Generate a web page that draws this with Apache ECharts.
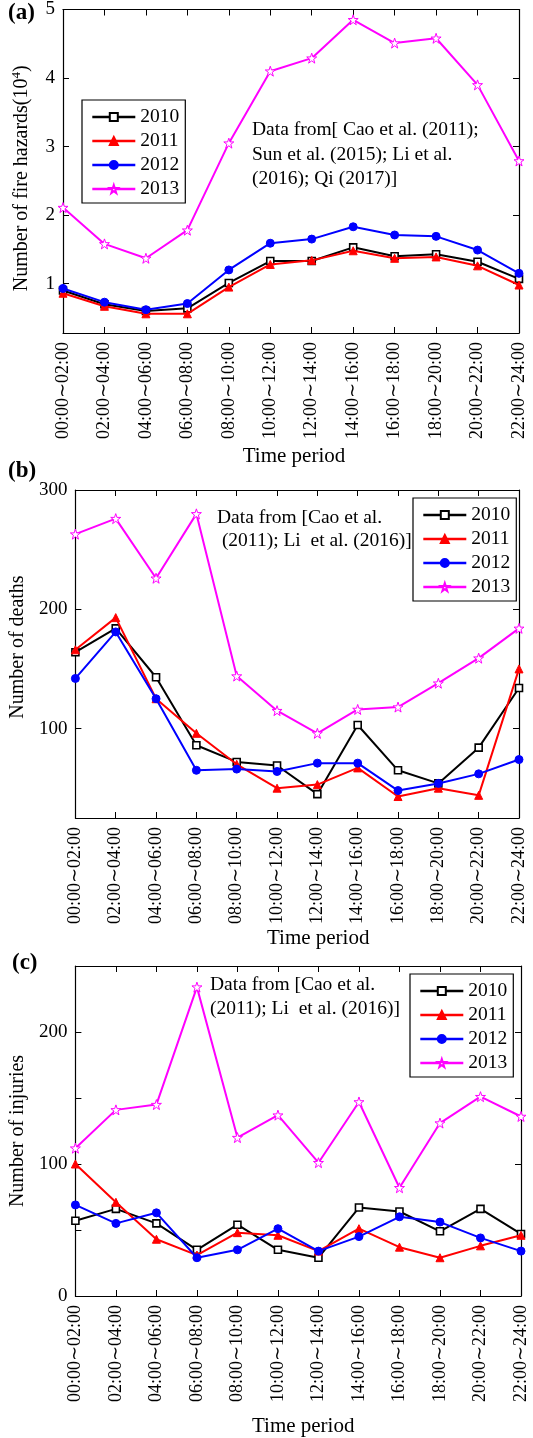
<!DOCTYPE html>
<html>
<head>
<meta charset="utf-8">
<script src="https://cdn.jsdelivr.net/npm/echarts@6/dist/echarts.min.js"></script>
<style>
html,body{margin:0;padding:0;background:#fff;}
#chart{width:533px;height:1438px;}
</style>
</head>
<body>
<div id="chart"></div>
<script>
// time slots on the x axis
var periods = ['00:00∼02:00','02:00∼04:00','04:00∼06:00','06:00∼08:00','08:00∼10:00','10:00∼12:00',
               '12:00∼14:00','14:00∼16:00','16:00∼18:00','18:00∼20:00','20:00∼22:00','22:00∼24:00'];
var years = ['2010','2011','2012','2013'];

// (a) number of fire hazards, 10^4
var fire2010 = [0.90, 0.70, 0.60, 0.64, 1.01, 1.33, 1.33, 1.53, 1.40, 1.43, 1.32, 1.07];
var fire2011 = [0.86, 0.67, 0.56, 0.56, 0.95, 1.28, 1.34, 1.48, 1.37, 1.39, 1.26, 0.98];
var fire2012 = [0.93, 0.73, 0.62, 0.71, 1.20, 1.59, 1.65, 1.83, 1.71, 1.69, 1.49, 1.15];
var fire2013 = [2.11, 1.58, 1.37, 1.78, 3.05, 4.10, 4.29, 4.85, 4.51, 4.58, 3.90, 2.79];

// (b) number of deaths
var death2010 = [164, 184, 143, 86, 72, 69, 45, 103, 65, 54, 84, 134];
var death2011 = [166, 193, 125, 96, 70, 50, 53, 67, 43, 50, 44, 150];
var death2012 = [142, 181, 125, 65, 66, 64, 71, 71, 48, 54, 62, 74];
var death2013 = [263, 276, 226, 280, 144, 115, 96, 116, 118, 138, 159, 184];

// (c) number of injuries
var injury2010 = [57, 66, 55, 35, 54, 35, 29, 67, 64, 49, 66, 47];
var injury2011 = [100, 71, 43, 31, 48, 46, 34, 51, 37, 29, 38, 46];
var injury2012 = [69, 55, 63, 29, 35, 51, 34, 45, 60, 56, 44, 34];
var injury2013 = [112, 141, 145, 234, 120, 137, 101, 147, 82, 131, 151, 136];

// y ticks
var fireTicks = [1, 2, 3, 4, 5];
var deathTicks = [100, 200, 300];
var injuryTicks = [0, 50, 100, 150, 200, 250];
var injuryLabels = [0, 100, 200];

var FONT = 'Liberation Serif';
var colors = ['#000000', '#ff0000', '#0000ff', '#ff00ff'];
var star = 'path://M50,2 L61.8,36 L97.6,36 L68.6,57.5 L79.4,92 L50,71 L20.6,92 L31.4,57.5 L2.4,36 L38.2,36 Z';
var symbols = ['rect', 'triangle', 'circle', star];
var symSizes = [7, 8, 8, 10];
var fills = ['#ffffff', '#ff0000', '#0000ff', '#ffffff'];

var grids = [
    {left: 63, top: 5, width: 456, height: 328},
    {left: 73, top: 490, width: 446, height: 328},
    {left: 72, top: 966, width: 449, height: 330}
];

var axisLine = {show: true, onZero: false, lineStyle: {color: '#000', width: 1.2}};

function xAxes(gi, nameGap, namePad) {
    return [{
        type: 'category', gridIndex: gi, data: periods, boundaryGap: false, position: 'bottom',
        axisLine: axisLine,
        axisTick: {show: true, inside: true, length: 6, interval: 0, lineStyle: {color: '#000'}},
        axisLabel: {rotate: 90, margin: 9, interval: 0, fontFamily: FONT, fontSize: 18, color: '#000'},
        name: 'Time period', nameLocation: 'middle', nameGap: nameGap,
        nameTextStyle: {fontFamily: FONT, fontSize: 21, color: '#000', padding: namePad}
    }, {
        type: 'category', gridIndex: gi, data: periods, boundaryGap: false, position: 'top',
        axisLine: axisLine,
        axisTick: {show: true, inside: true, length: 6, interval: 0, lineStyle: {color: '#000'}},
        axisLabel: {show: false}
    }];
}

function yAxes(gi, min, max, ticks, labels, name, nameGap, namePad, rich) {
    return [{
        type: 'value', gridIndex: gi, min: min, max: max, position: 'left',
        splitLine: {show: false},
        axisLine: axisLine,
        axisTick: {show: true, inside: true, length: 6, customValues: ticks, lineStyle: {color: '#000'}},
        axisLabel: {customValues: labels, margin: 8, fontFamily: FONT, fontSize: 19, color: '#000'},
        name: name, nameLocation: 'middle', nameGap: nameGap, nameRotate: 90,
        nameTextStyle: {fontFamily: FONT, fontSize: 20, color: '#000', padding: namePad, rich: rich}
    }, {
        type: 'value', gridIndex: gi, min: min, max: max, position: 'right',
        splitLine: {show: false},
        axisLine: axisLine,
        axisTick: {show: true, inside: true, length: 6, customValues: ticks, lineStyle: {color: '#000'}},
        axisLabel: {show: false}
    }];
}

function lines(gi, sets) {
    var out = [];
    for (var k = 0; k < sets.length; k++) {
        out.push({
            name: years[k], type: 'line', xAxisIndex: gi * 2, yAxisIndex: gi * 2,
            data: sets[k], symbol: symbols[k], symbolSize: symSizes[k], showAllSymbol: true,
            lineStyle: {color: colors[k], width: 2},
            itemStyle: {color: fills[k], borderColor: colors[k], borderWidth: k == 0 ? 1.6 : 1},
            z: 2 + k
        });
    }
    return out;
}

function legendAt(left, top) {
    return {
        orient: 'vertical', left: left, top: top, data: years, selectedMode: false,
        itemWidth: 43, itemHeight: 10, itemGap: 4,
        padding: [7, 6, 4, 9], borderColor: '#000', borderWidth: 1.2,
        lineStyle: {width: 2.6},
        textStyle: {fontFamily: FONT, fontSize: 19.5, color: '#000'}
    };
}

var fireRich = {
    t: {fontFamily: FONT, fontSize: 20, color: '#000', lineHeight: 24},
    s: {fontFamily: FONT, fontSize: 13, color: '#000', lineHeight: 12, verticalAlign: 'top'}
};

function note(x, y, txt, lh) {
    return {type: 'text', left: x, top: y, style: {text: txt, font: '19.5px "Liberation Serif"', fill: '#000', lineHeight: lh}};
}
function tag(x, y, txt) {
    return {type: 'text', left: x, top: y, style: {text: txt, font: 'bold 23px "Liberation Serif"', fill: '#000'}};
}

var myChart = echarts.init(document.getElementById('chart'), null, {renderer: 'canvas'});
var option = {
    animation: false,
    backgroundColor: '#fff',
    grid: grids,
    xAxis: [].concat(xAxes(0, 113, [0, 0, 0, 6]), xAxes(1, 110, [0, 0, 0, 42]), xAxes(2, 120, [0, 0, 0, 10])),
    yAxis: [].concat(
        yAxes(0, 0.28, 5, fireTicks, fireTicks, '{t|Number of fire hazards(10}{s|4}{t|)}', 29, [0, 14, 0, 0], fireRich),
        yAxes(1, 25, 300, deathTicks, deathTicks, 'Number of deaths', 44, [0, 0, 0, 14], null),
        yAxes(2, 0, 250, injuryTicks, injuryLabels, 'Number of injuries', 43, [0, 0, 0, 0], null)
    ),
    legend: [legendAt(82, 100), legendAt(413, 498), legendAt(410, 974)],
    series: [].concat(
        lines(0, [fire2010, fire2011, fire2012, fire2013]),
        lines(1, [death2010, death2011, death2012, death2013]),
        lines(2, [injury2010, injury2011, injury2012, injury2013])
    ),
    graphic: [
        tag(8, 2, '(a)'),
        tag(8, 460, '(b)'),
        tag(12, 952, '(c)'),
        note(252, 118, 'Data from[ Cao et al. (2011);\nSun et al. (2015); Li et al.\n(2016); Qi (2017)]', 24.5),
        note(217, 506, 'Data from [Cao et al.\n (2011); Li  et al. (2016)]', 23),
        note(210, 973, 'Data from [Cao et al.\n(2011); Li  et al. (2016)]', 24)
    ]
};
myChart.setOption(option);
</script>
</body>
</html>
